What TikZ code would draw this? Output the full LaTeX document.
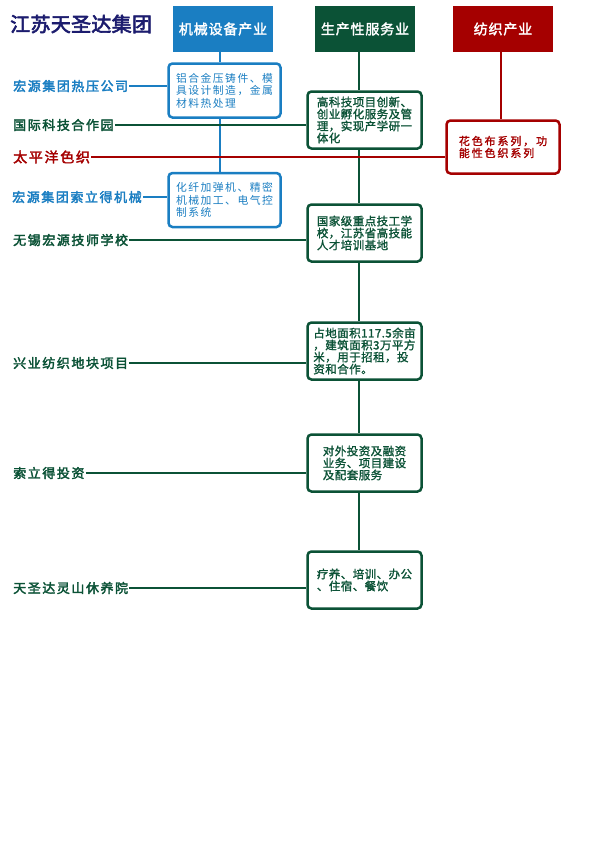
\documentclass[tikz,border=0pt]{standalone}
\usepackage{fontspec}
\usepackage{tikz}
\newfontfamily\titlefont[FakeBold=3,LetterSpace=1.5]{Noto Sans CJK SC}
\newfontfamily\headfont[FakeBold=2,LetterSpace=6]{Noto Sans CJK SC}
\newfontfamily\lblfont[FakeBold=2.5,LetterSpace=12]{Noto Sans CJK SC}
\newfontfamily\mechfont[LetterSpace=14]{Noto Sans CJK SC}
\newfontfamily\servfont[FakeBold=1.5,LetterSpace=4]{Noto Sans CJK SC}
\newfontfamily\fabfont[FakeBold=1.5,LetterSpace=17]{Noto Sans CJK SC}
\definecolor{mblue}{HTML}{1A7EC2}
\definecolor{sgreen}{HTML}{0B5236}
\definecolor{tred}{HTML}{A50000}
\definecolor{navy}{HTML}{1C1C6E}

\begin{document}
\begin{tikzpicture}[x=1pt,y=-1pt,
  head/.style={minimum width=100pt,minimum height=46pt,inner sep=0pt,text=white,font=\headfont\fontsize{14}{15}\selectfont},
  mbox/.style={draw=mblue,line width=2.5pt,rounded corners=4pt,fill=white,minimum width=112pt,minimum height=54pt,align=left,text=mblue,font=\mechfont\fontsize{10.8}{12.5}\selectfont},
  sbox/.style={draw=sgreen,line width=2.5pt,rounded corners=4pt,fill=white,minimum width=114pt,minimum height=57pt,align=left,text=sgreen,font=\servfont\fontsize{11.5}{12}\selectfont},
  tbox/.style={draw=tred,line width=2.5pt,rounded corners=4pt,fill=white,minimum width=113pt,minimum height=53pt,align=left,text=tred,font=\fabfont\fontsize{11}{12}\selectfont},
  lbl/.style={anchor=west,inner sep=1pt,font=\lblfont\fontsize{13}{15}\selectfont},
  mline/.style={mblue,line width=1.6pt},
  sline/.style={sgreen,line width=1.6pt},
  tline/.style={tred,line width=1.6pt}]
  \fill[white] (0,0) rectangle (600,862);

  %title and header row
  \node[font=\titlefont\fontsize{20}{22}\selectfont,text=navy,anchor=west,inner sep=0pt] (title) at (10,24) {江苏天圣达集团};
  \node[head,fill=mblue] (hMech) at (223,29) {机械设备产业};
  \node[head,fill=sgreen] (hServ) at (365,29) {生产性服务业};
  \node[head,fill=tred] (hText) at (503,29) {纺织产业};

  %boxes
  \node[mbox] (bMech1) at (224.5,90.5) {铝合金压铸件、模\\具设计制造，金属\\材料热处理};
  \node[mbox] (bMech2) at (224.5,200) {化纤加弹机、精密\\机械加工、电气控\\制系统};
  \node[sbox] (bServ1) at (364.5,120) {高科技项目创新、\\创业孵化服务及管\\理，实现产学研一\\体化};
  \node[sbox] (bServ2) at (364.5,233) {国家级重点技工学\\校，江苏省高技能\\人才培训基地};
  \node[sbox] (bServ3) at (364.5,351) {占地面积117.5余亩\\，建筑面积3万平方\\米，用于招租，投\\资和合作。};
  \node[sbox] (bServ4) at (364.5,463) {对外投资及融资\\业务、项目建设\\及配套服务};
  \node[sbox] (bServ5) at (364.5,580) {疗养、培训、办公\\、住宿、餐饮};
  \node[tbox] (bText1) at (503,147) {花色布系列，功\\能性色织系列};

  %labels
  \node[lbl,text=mblue] (lHot) at (12,86) {宏源集团热压公司};
  \node[lbl,text=sgreen] (lPark) at (12,125) {国际科技合作园};
  \node[lbl,text=tred,font=\lblfont\fontsize{14}{16}\selectfont] (lPacific) at (12,157) {太平洋色织};
  \node[lbl,text=mblue] (lSolid) at (11,197) {宏源集团索立得机械};
  \node[lbl,text=sgreen] (lSchool) at (12,240) {无锡宏源技师学校};
  \node[lbl,text=sgreen] (lXingye) at (12,363) {兴业纺织地块项目};
  \node[lbl,text=sgreen] (lInvest) at (12,473) {索立得投资};
  \node[lbl,text=sgreen] (lRest) at (12,588) {天圣达灵山休养院};

  %trunk lines
  \draw[mline] ([xshift=-3pt]hMech.south) -- ([xshift=-3pt]hMech.south |- bMech1.north);
  \draw[mline] ([xshift=-4.5pt]bMech1.south) -- ([xshift=-4.5pt]bMech1.south |- bMech2.north);
  \draw[sline] ([xshift=-6pt]hServ.south) -- ([xshift=-6pt]hServ.south |- bServ1.north);
  \foreach \a/\b in {bServ1/bServ2,bServ2/bServ3,bServ3/bServ4,bServ4/bServ5}
    \draw[sline] ([xshift=-5.5pt]\a.south) -- ([xshift=-5.5pt]\a.south |- \b.north);
  \draw[tline] ([xshift=-2pt]hText.south) -- ([xshift=-2pt]hText.south |- bText1.north);

  %branches
  \draw[mline] (lHot.east) -- (lHot.east -| bMech1.west);
  \draw[sline] (lPark.east) -- (lPark.east -| bServ1.west);
  \draw[tline] (lPacific.east) -- (lPacific.east -| bText1.west);
  \draw[mline] (lSolid.east) -- (lSolid.east -| bMech2.west);
  \foreach \l/\b in {lSchool/bServ2,lXingye/bServ3,lInvest/bServ4,lRest/bServ5}
    \draw[sline] (\l.east) -- (\l.east -| \b.west);
\end{tikzpicture}
\end{document}
